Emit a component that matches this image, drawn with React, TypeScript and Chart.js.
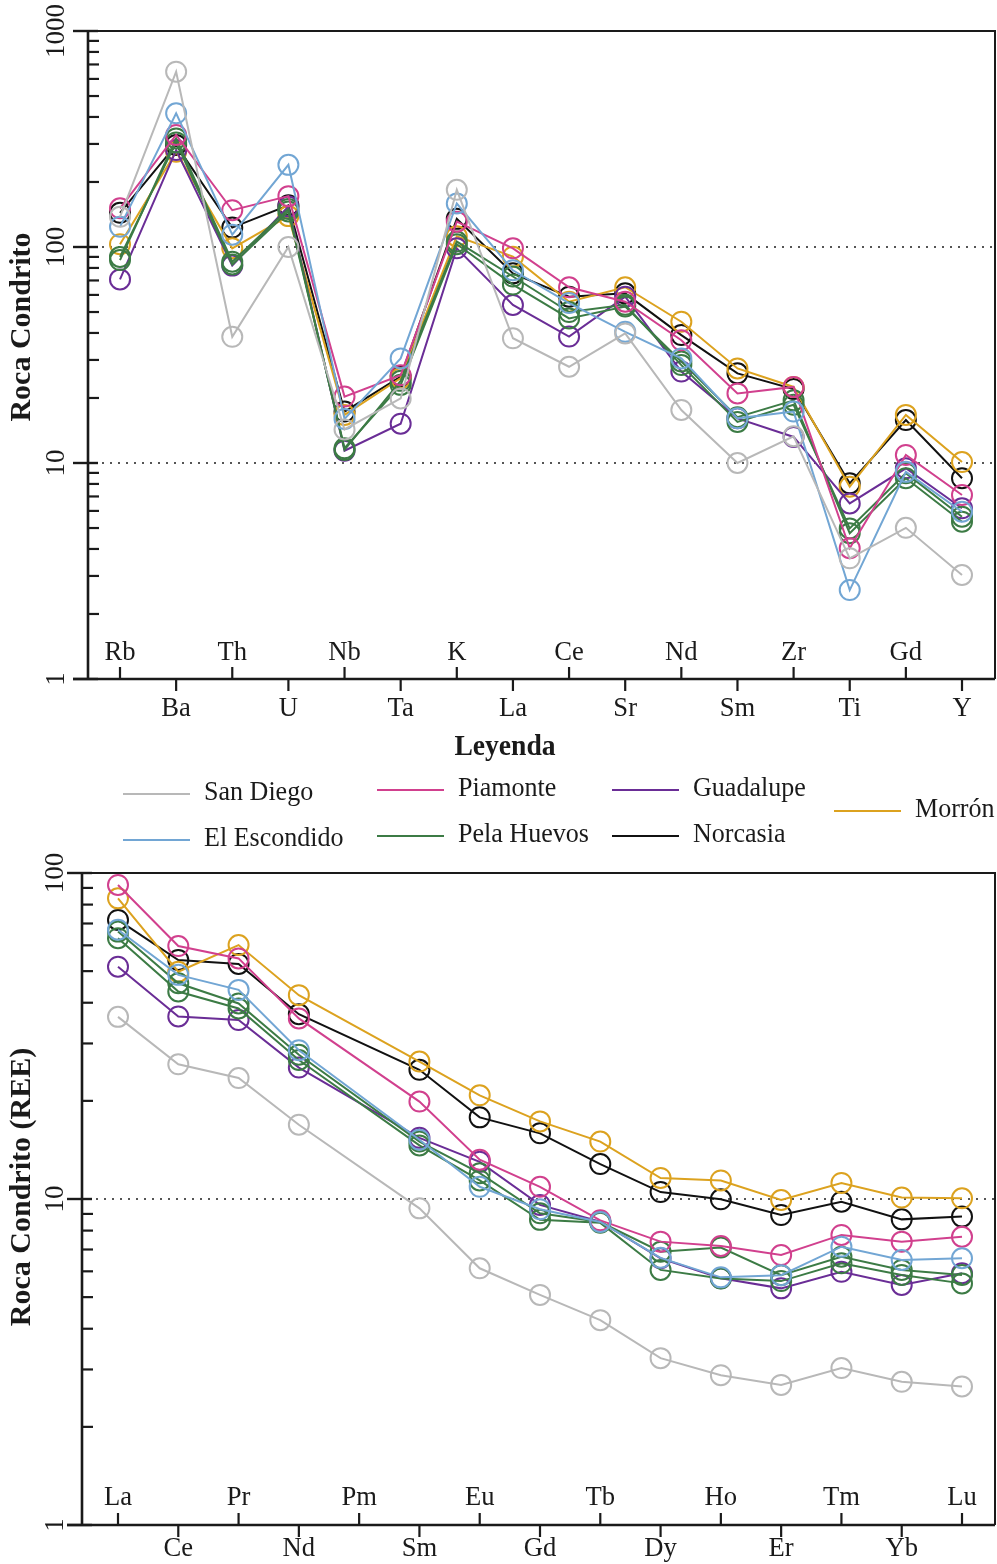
import React, { useEffect, useRef } from 'react';
import { Chart, registerables } from 'chart.js';

Chart.register(...registerables);

// ---------- DATA ----------
const spiderElements = ['Rb', 'Ba', 'Th', 'U', 'Nb', 'Ta', 'K', 'La', 'Ce', 'Sr', 'Nd', 'Sm', 'Zr', 'Ti', 'Gd', 'Y'];
const reeElements = ['La', 'Ce', 'Pr', 'Nd', 'Pm', 'Sm', 'Eu', 'Gd', 'Tb', 'Dy', 'Ho', 'Er', 'Tm', 'Yb', 'Lu'];

const spiderTicks = [1, 10, 100, 1000];
const reeTicks = [1, 10, 100];

const seriesNames = ['San Diego', 'El Escondido', 'Piamonte', 'Pela Huevos', 'Guadalupe', 'Norcasia', 'Morrón'];
const seriesColors = ['#b8b8b8', '#72a6d4', '#d1408e', '#3c7b45', '#6a2d96', '#111111', '#dca21f'];

// Spider diagram (Roca / Condrito)
const spiderSanDiego = [138, 648, 38.4, 100, 14.3, 19.9, 184, 37.8, 27.9, 39.8, 17.6, 10.0, 13.3, 3.62, 5.01, 3.03];
const spiderElEscondido = [124, 416, 114, 240, 16.0, 30.5, 159, 78, 55, 40.5, 30.5, 16.1, 17.3, 2.58, 9.1, 5.95];
const spiderPiamonte = [151, 330, 148, 172, 20.3, 25.5, 131, 98.6, 65.1, 55.8, 37, 21, 22.5, 4.03, 10.9, 7.11];
const spiderPelaHuevosA = [87, 318, 85.5, 150, 11.5, 24, 106, 73, 50, 54, 28.4, 15.5, 18.6, 4.98, 8.97, 5.64];
const spiderPelaHuevosB = [90, 305, 83, 146, 11.7, 23, 103, 67, 46.7, 53, 29.5, 16.3, 19.5, 4.73, 8.5, 5.35];
const spiderGuadalupe = [70.8, 281, 82, 154, 11.4, 15.2, 98.6, 53.9, 38.5, 58.9, 26.5, 16.1, 13.2, 6.5, 9.45, 6.17];
const spiderNorcasia = [144, 297, 123, 156, 17.3, 25.1, 135, 75.5, 58.9, 61, 39.1, 26, 22, 8.05, 15.8, 8.5];
const spiderMorron = [103, 276, 98.6, 139, 16.7, 24.7, 112, 90.2, 55.8, 65.1, 45.1, 27.4, 22.5, 7.77, 16.7, 10.1];

// REE diagram (Roca / Condrito), Pm not analysed
const reeSanDiego = [36.2, 25.9, 23.5, 16.9, null, 9.36, 6.13, 5.08, 4.25, 3.25, 2.88, 2.69, 3.03, 2.75, 2.66];
const reeElEscondido = [67, 48.7, 43.8, 28.6, null, 15.2, 10.9, 9.3, 8.5, 6.6, 5.75, 5.84, 7.14, 6.5, 6.58];
const reePiamonte = [91.9, 59.7, 54.7, 35.8, null, 19.9, 13.2, 10.9, 8.6, 7.4, 7.18, 6.73, 7.76, 7.4, 7.66];
const reePelaHuevosA = [66.1, 45.9, 39.8, 27.7, null, 15.0, 12.0, 9.04, 8.5, 6.89, 7.1, 5.84, 6.65, 6.06, 5.85];
const reePelaHuevosB = [63.1, 43.3, 38.4, 26.7, null, 14.6, 11.4, 8.63, 8.45, 6.06, 5.7, 5.6, 6.35, 5.85, 5.51];
const reeGuadalupe = [51.6, 36.3, 35.4, 25.3, null, 15.4, 13.0, 9.59, 8.52, 6.58, 5.71, 5.32, 5.98, 5.45, 5.92];
const reeNorcasia = [71.8, 54.1, 52.6, 36.9, null, 24.9, 17.8, 15.9, 12.8, 10.5, 9.98, 8.93, 9.81, 8.66, 8.83];
const reeMorron = [83.6, 49.8, 60.1, 42.2, null, 26.4, 20.8, 17.3, 15.0, 11.6, 11.4, 9.93, 11.2, 10.1, 10.05];

// series index (into names/colors) for each dataset
const spiderSeries = [
  { s: 0, v: spiderSanDiego },
  { s: 1, v: spiderElEscondido },
  { s: 2, v: spiderPiamonte },
  { s: 3, v: spiderPelaHuevosA },
  { s: 3, v: spiderPelaHuevosB },
  { s: 4, v: spiderGuadalupe },
  { s: 6, v: spiderMorron },
  { s: 5, v: spiderNorcasia },
];
const reeSeries = [
  { s: 0, v: reeSanDiego },
  { s: 1, v: reeElEscondido },
  { s: 2, v: reePiamonte },
  { s: 3, v: reePelaHuevosA },
  { s: 3, v: reePelaHuevosB },
  { s: 4, v: reeGuadalupe },
  { s: 6, v: reeMorron },
  { s: 5, v: reeNorcasia },
];

const SERIF = '"Liberation Serif", "Times New Roman", serif';
const INK = '#1a1a1a';

function drawText(ctx: CanvasRenderingContext2D, text: string, x: number, y: number, font: string,
  align: CanvasTextAlign, baseline: CanvasTextBaseline, rotate = 0, sx = 1) {
  ctx.save();
  ctx.translate(x, y);
  if (rotate) ctx.rotate(rotate);
  ctx.scale(sx, 1);
  ctx.font = font;
  ctx.textAlign = align;
  ctx.textBaseline = baseline;
  ctx.fillStyle = INK;
  ctx.fillText(text, 0, 0);
  ctx.restore();
}

type AxisCfg = {
  labels: string[];
  ticks: number[];
  dotted: number[];
  title: string;
  titleX: number;
  titleY: number;
  tickLabelX: number;
  evenBaseline: number;
  oddBaseline: number;
  legend?: boolean;
};

function framePlugin(cfg: AxisCfg) {
  return {
    id: 'frameAxes',
    beforeDatasetsDraw(chart: any) {
      const ctx: CanvasRenderingContext2D = chart.ctx;
      const { left, right } = chart.chartArea;
      const ys = chart.scales.y;
      ctx.save();
      ctx.strokeStyle = '#555';
      ctx.lineWidth = 2;
      ctx.setLineDash([2, 6]);
      cfg.dotted.forEach((v) => {
        const y = ys.getPixelForValue(v);
        ctx.beginPath();
        ctx.moveTo(left + 6, y);
        ctx.lineTo(right, y);
        ctx.stroke();
      });
      ctx.restore();
    },
    afterDatasetsDraw(chart: any) {
      const ctx: CanvasRenderingContext2D = chart.ctx;
      const { left, right, top, bottom } = chart.chartArea;
      const xs = chart.scales.x;
      const ys = chart.scales.y;
      ctx.save();
      ctx.strokeStyle = INK;
      ctx.setLineDash([]);
      // frame
      ctx.lineWidth = 2;
      ctx.beginPath();
      ctx.moveTo(left, top);
      ctx.lineTo(right, top);
      ctx.lineTo(right, bottom);
      ctx.stroke();
      ctx.lineWidth = 2.6;
      ctx.beginPath();
      ctx.moveTo(left, top);
      ctx.lineTo(left, bottom);
      ctx.moveTo(left - 15, bottom);
      ctx.lineTo(right, bottom);
      ctx.stroke();
      // y ticks
      const maxV = cfg.ticks[cfg.ticks.length - 1];
      cfg.ticks.forEach((d) => {
        const y = ys.getPixelForValue(d);
        ctx.lineWidth = 2.4;
        ctx.beginPath();
        ctx.moveTo(left - 15, y);
        ctx.lineTo(left + 10, y);
        ctx.stroke();
        drawText(ctx, String(d), cfg.tickLabelX, y, `27px ${SERIF}`, 'center', 'middle', -Math.PI / 2);
        if (d < maxV) {
          for (let m = 2; m <= 9; m++) {
            const ym = ys.getPixelForValue(d * m);
            ctx.lineWidth = 2.2;
            ctx.beginPath();
            ctx.moveTo(left, ym);
            ctx.lineTo(left + 11, ym);
            ctx.stroke();
          }
        }
      });
      // x ticks & labels
      cfg.labels.forEach((lab, i) => {
        const x = xs.getPixelForValue(i);
        ctx.lineWidth = 2.2;
        ctx.beginPath();
        if (i % 2 === 0) {
          ctx.moveTo(x, bottom);
          ctx.lineTo(x, bottom - 12);
        } else {
          ctx.moveTo(x, bottom);
          ctx.lineTo(x, bottom + 12);
        }
        ctx.stroke();
        drawText(ctx, lab, x, i % 2 === 0 ? cfg.evenBaseline : cfg.oddBaseline, `28px ${SERIF}`, 'center', 'alphabetic', 0, 0.95);
      });
      // y title
      drawText(ctx, cfg.title, cfg.titleX, cfg.titleY, `bold 30px ${SERIF}`, 'center', 'middle', -Math.PI / 2);

      // legend
      if (cfg.legend) {
        drawText(ctx, 'Leyenda', 505, 755, `bold 30px ${SERIF}`, 'center', 'alphabetic', 0, 0.92);
        const colX = [123, 377, 612, 834];
        const rowY = [790, 836];
        const items = [
          { s: 0, c: 0, ly: rowY[0] + 4 },
          { s: 1, c: 0, ly: rowY[1] + 4 },
          { s: 2, c: 1, ly: rowY[0] },
          { s: 3, c: 1, ly: rowY[1] },
          { s: 4, c: 2, ly: rowY[0] },
          { s: 5, c: 2, ly: rowY[1] },
          { s: 6, c: 3, ly: 811 },
        ];
        items.forEach((it) => {
          const x0 = colX[it.c];
          ctx.strokeStyle = seriesColors[it.s];
          ctx.lineWidth = 2.2;
          ctx.beginPath();
          ctx.moveTo(x0, it.ly);
          ctx.lineTo(x0 + 67, it.ly);
          ctx.stroke();
          drawText(ctx, seriesNames[it.s], x0 + 81, it.ly + 6, `28px ${SERIF}`, 'left', 'alphabetic', 0, 0.93);
        });
      }
      ctx.restore();
    },
  };
}

function buildDatasets(series: { s: number; v: (number | null)[] }[]) {
  return series.map((ser) => ({
    label: seriesNames[ser.s],
    data: ser.v
      .map((val, i) => ({ x: i, y: val }))
      .filter((p) => p.y !== null) as { x: number; y: number }[],
    borderColor: seriesColors[ser.s],
    pointBorderColor: seriesColors[ser.s],
    pointBackgroundColor: 'rgba(0,0,0,0)',
    backgroundColor: 'rgba(0,0,0,0)',
    borderWidth: 2,
    pointRadius: 10,
    pointBorderWidth: 2,
    pointHoverRadius: 10,
    tension: 0,
    fill: false,
    clip: false as any,
  }));
}

function makeConfig(opts: {
  series: { s: number; v: (number | null)[] }[];
  xMin: number; xMax: number; yMax: number;
  padding: { left: number; top: number; right: number; bottom: number };
  plugin: any;
}): any {
  return {
    type: 'line',
    data: { datasets: buildDatasets(opts.series) },
    options: {
      responsive: false,
      animation: false,
      devicePixelRatio: 1,
      layout: { padding: opts.padding, autoPadding: false },
      plugins: { legend: { display: false }, tooltip: { enabled: false }, title: { display: false } },
      events: [],
      scales: {
        x: { type: 'linear', min: opts.xMin, max: opts.xMax, display: false },
        y: { type: 'logarithmic', min: 1, max: opts.yMax, display: false },
      },
    },
    plugins: [opts.plugin],
  };
}

const BOT_TOP = 840;

export default function App() {
  const topRef = useRef<HTMLCanvasElement | null>(null);
  const botRef = useRef<HTMLCanvasElement | null>(null);

  useEffect(() => {
    // top: chart area left 88, right 995, top 31, bottom 679 within 997x840
    const topUnit = (962 - 120) / (spiderElements.length - 1);
    const topChart = new Chart(topRef.current as HTMLCanvasElement, makeConfig({
      series: spiderSeries,
      xMin: -(120 - 88) / topUnit,
      xMax: spiderElements.length - 1 + (995 - 962) / topUnit,
      yMax: 1000,
      padding: { left: 88, top: 31, right: 2, bottom: 860 - 679 },
      plugin: framePlugin({
        labels: spiderElements, ticks: spiderTicks, dotted: [10, 100], title: 'Roca Condrito',
        titleX: 22, titleY: 327, tickLabelX: 57, evenBaseline: 660, oddBaseline: 716, legend: true,
      }),
    }));
    // bottom: chart area left 82, right 995, top 873, bottom 1525 (page coords)
    const botUnit = (962 - 118) / (reeElements.length - 1);
    const botChart = new Chart(botRef.current as HTMLCanvasElement, makeConfig({
      series: reeSeries,
      xMin: -(118 - 82) / botUnit,
      xMax: reeElements.length - 1 + (995 - 962) / botUnit,
      yMax: 100,
      padding: { left: 82, top: 873 - BOT_TOP, right: 2, bottom: 1564 - 1525 },
      plugin: framePlugin({
        labels: reeElements, ticks: reeTicks, dotted: [10], title: 'Roca Condrito (REE)',
        titleX: 22, titleY: 1187 - BOT_TOP, tickLabelX: 56, evenBaseline: 1505 - BOT_TOP, oddBaseline: 1556 - BOT_TOP,
      }),
    }));
    return () => {
      topChart.destroy();
      botChart.destroy();
    };
  }, []);

  return (
    <div style={{ position: 'absolute', left: 0, top: 0, width: 997, height: 1564, background: '#fff' }}>
      <canvas ref={topRef} width={997} height={860} style={{ position: 'absolute', left: 0, top: 0, width: 997, height: 860 }} />
      <canvas ref={botRef} width={997} height={1564 - BOT_TOP} style={{ position: 'absolute', left: 0, top: BOT_TOP, width: 997, height: 1564 - BOT_TOP }} />
    </div>
  );
}
